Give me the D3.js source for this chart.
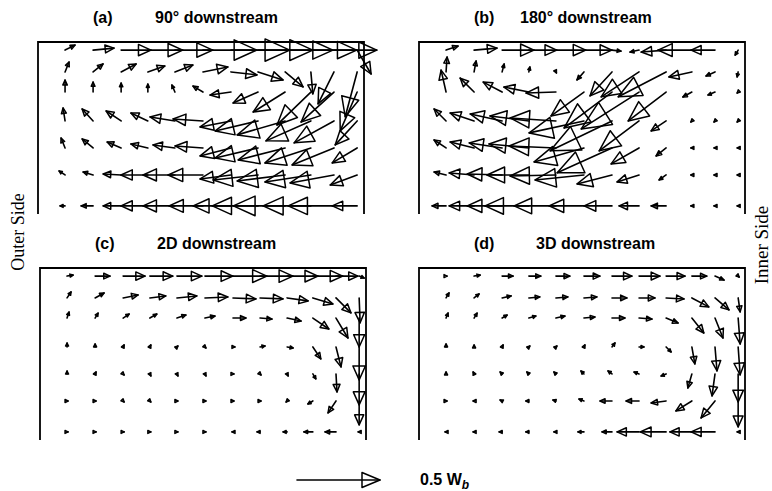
<!DOCTYPE html>
<html>
<head>
<meta charset="utf-8">
<script src="https://cdn.jsdelivr.net/npm/d3@7"></script>
<style>
  body { margin: 0; background: #fff; }
  svg { display: block; }
</style>
</head>
<body>
<svg id="chart" width="772" height="491"></svg>
<script>
// Measuring stations across the channel width (outer wall = 0, inner wall = 1)
const stationsX = [0.083, 0.169, 0.255, 0.337, 0.420, 0.506, 0.592, 0.675, 0.758, 0.837, 0.908, 0.979];
// Measuring rows over the depth (free surface = 0, bed = 1)
const stationsY = [0.047, 0.174, 0.291, 0.459, 0.616, 0.773, 0.953];

const panelLabels = ["(a)", "(b)", "(c)", "(d)"];
const panelTitles = ["90\u00B0 downstream", "180\u00B0 downstream", "2D downstream", "3D downstream"];

// Secondary velocity in % of W_b: u toward the inner side, w upward.
// One row per measuring depth, one value per station.
const u90 = [
  [6, 12.6, 18, 21, 22.8, 32.4, 35.4, 33, 28.8, 27.6, 25.8, 8.4],
  [2.4, 6, 9, 10.2, 10.8, 15, 15.6, 15, 10.8, 1.2, -9.6, -7.2],
  [0, 0, 0, 0, -1.8, -6, -12.6, -15, -19.2, -20.4, -19.8, -10.2],
  [-1.2, -6.6, -9, -10.2, -15, -18, -18.6, -25.8, -28.8, -27, -24, -13.2],
  [-2.4, -6.6, -8.4, -10.2, -13.2, -16.8, -18.6, -25.8, -28.2, -27.6, -25.2, -15],
  [-3.6, -6, -10.8, -16.2, -19.2, -21, -18.6, -27, -28.8, -27.6, -26.4, -16.2],
  [-3, -7.2, -10.8, -16.2, -19.2, -20.4, -22.8, -27.6, -31.2, -28.8, -27.6, -15]
];
const w90 = [
  [3, 1.2, 0, 0, 0, 0, 0, 0, 0, 0, 0, -14.4],
  [6, 4.8, 4.8, 3.6, 4.2, 3, -1.8, -4.8, -9, -13.2, -19.2, -27],
  [7.2, 6, 5.4, 4.8, 4.2, 3.6, -1.8, -6.6, -12, -19.8, -18, -23.4],
  [7.8, 7.2, 6, 4.8, 2.4, 1.2, -3.6, -6, -8.4, -12, -13.2, -14.4],
  [6, 5.4, 3.6, 2.4, 1.8, 1.2, -4.8, -6, -7.2, -9, -10.2, -9],
  [2.4, 1.8, 0.6, 0, 0, 0, -2.4, -3, -3.6, -4.2, -4.8, -6],
  [0, 0, 0, 0, 0, 0, 0, 0, 0, 0, 0, 0]
];

const u180 = [
  [7.2, 13.8, 19.2, 16.8, 18, 16.8, 5.4, -5.4, -15, -20.4, -14.4, -1.8],
  [0.6, 1.2, 1.2, 0.6, 0.3, -4.2, -13.2, -22.8, -28.8, -13.8, -5.4, -0.6],
  [-3, -8.4, -11.4, -15, -18, -19.8, -28.8, -34.8, -22.8, -5.4, -4.2, -0.6],
  [-7.2, -14.4, -19.2, -23.4, -27.6, -33, -37.2, -24, -9, -0.6, -0.6, -0.6],
  [-7.2, -14.4, -19.8, -24, -28.2, -30, -33, -16.8, -6, -0.6, -0.6, -0.6],
  [-7.2, -15, -21, -25.2, -27.6, -29.4, -21, -13.2, -4.2, -0.6, -0.6, -0.6],
  [-8.4, -15, -21, -26.4, -25.2, -21, -16.8, -12, -9, -0.6, -0.6, -0.6]
];
const w180 = [
  [2.4, 1.2, 0, 0, 0, 0, -0.6, -1.2, -1.2, 0, 0, -3],
  [9, 6.6, 4.8, 3, -0.6, -4.8, -14.4, -15, -15, -3, -2.4, -3],
  [13.2, 8.4, 6, 3, -0.6, -14.4, -21.6, -22.2, -17.4, -3, -1.8, -0.6],
  [7.2, 4.8, 4.2, 3, 1.8, -7.2, -18, -18, -6, -0.6, -0.6, -0.6],
  [4.8, 3.6, 3, 2.4, 1.2, -8.4, -15, -9.6, -4.8, 0, 0, 0],
  [1.8, 1.2, 0.6, 0, -0.6, -3, -5.4, -4.2, -3, 0, 0, 0],
  [0, 0, 0, 0, 0, 0, 0, 0, 0, 0, 0, 0]
];

const u2D = [
  [3.6, 9, 13.2, 13.8, 15, 16.8, 20.4, 19.8, 18.6, 18, 13.2, 3],
  [2.4, 5.4, 9, 9.6, 12, 13.8, 13.8, 13.8, 12.6, 12, 9, 0.6],
  [1.2, 1.8, 3.6, 4.2, 5.4, 6, 7.8, 7.2, 8.4, 9.6, 7.2, 0],
  [0, 0, 0.6, 0.6, 0.6, 0.6, 1.2, 3, 3.6, 4.8, 3, 0],
  [0, 0.6, 0.6, 0.6, 0.6, 0.6, 0, 0.6, 0.6, 1.8, 0.6, 0],
  [0, 0.6, 0.6, 0.6, 0, 0, 0, 0, -0.6, -3, -4.8, 0],
  [0.6, 0.6, 0.6, 0.6, 0.6, 0.6, -0.6, -1.8, -2.4, -5.4, -6.6, -0.6]
];
const w2D = [
  [0.6, 0, 0, 0, 0, 0, 0, 0, 0, 0, 0, -1.2],
  [3.6, 3, 1.8, 1.2, 1.2, 0.6, -0.6, -0.6, -1.8, -3.6, -9, -15],
  [3.6, 3, 2.4, 2.4, 1.8, 1.2, 0, -0.6, -1.8, -6.6, -12, -17.4],
  [2.4, 1.8, 1.2, 1.2, 0.6, -0.6, 0, 0.6, -0.6, -7.2, -12, -19.8],
  [1.8, 1.2, -0.6, -1.2, -1.2, -1.2, -0.6, -0.6, -1.2, -3, -10.8, -18.6],
  [0.6, 0, -0.6, -0.6, -0.6, -0.6, -0.6, -0.6, -0.6, -1.8, -7.2, -14.4],
  [0, 0, 0, 0, 0, 0, 0, 0, 0, 0, 0, 0]
];

const u3D = [
  [0.6, 3.6, 6.6, 7.2, 8.4, 9.6, 12, 12.6, 11.4, 9, 5.4, 0.6],
  [1.8, 3, 5.4, 6.6, 7.2, 7.8, 9, 9.6, 10.8, 10.2, 8.4, 1.2],
  [1.2, 1.8, 3, 4.2, 5.4, 6.6, 7.8, 7.8, 7.2, 7.2, 4.8, 1.2],
  [0, 0, 0.6, 0.6, 0.6, 0.6, 1.8, 3, 3, 1.8, 1.2, 1.2],
  [0, -0.6, -1.2, -1.2, -1.2, -1.8, -2.4, -3, -3, -2.4, -1.8, 0],
  [0, -0.6, -1.2, -1.8, -1.8, -3, -7.2, -7.8, -9, -9.6, -8.4, 0],
  [-0.6, -0.6, -1.8, -1.8, -1.2, -3.6, -6, -13.2, -15.6, -13.2, -14.4, -0.6]
];
const w3D = [
  [0, 0.6, 0, 0, 0, 0, 0, 0, 0, 0, -2.4, -0.6],
  [3, 2.4, 1.2, 0.6, 0.6, 0.6, 0, 0, -0.6, -5.4, -7.2, -8.4],
  [3, 3, 1.8, 1.2, 1.2, 0.6, 0, -0.6, -3, -9, -12, -15.6],
  [1.8, 1.2, 1.2, 0.6, 0.6, 1.2, 2.4, 0, -3, -10.2, -14.4, -16.8],
  [1.2, 1.2, 1.2, 1.2, 1.2, 1.8, 1.8, 1.2, -1.2, -8.4, -13.2, -16.8],
  [0.6, 0, 0.6, 0, 0.6, 1.2, 0, 0, -1.2, -6, -10.2, -15.6],
  [0, 0, 0, 0, 0, 0, 0, 0, 0, 0, 0, 0]
];

// Reference vector of the key, % of W_b
const keyValue = 50;
const keyLabel = "0.5 W";
const keySub = "b";
const sideLabels = ["Outer Side", "Inner Side"];

const fields = [[u90, w90], [u180, w180], [u2D, w2D], [u3D, w3D]];

const svg = d3.select("#chart");
const panelW = 326, panelH = 172;
const panelPos = [
  { left: 38, top: 42 },
  { left: 419, top: 42 },
  { left: 40, top: 268 },
  { left: 419, top: 268 }
];

// Arrow length scale shared by all panels and the key
const vScale = d3.scaleLinear().domain([0, keyValue]).range([0, 83]);

function arrow(g, x0, y0, x1, y1, hl, hw) {
  const dx = x1 - x0, dy = y1 - y0;
  const L = Math.hypot(dx, dy) || 1;
  const ux = dx / L, uy = dy / L;
  const bx = x1 - ux * hl, by = y1 - uy * hl;
  const px = -uy * hw, py = ux * hw;
  g.append("line")
    .attr("x1", x0).attr("y1", y0).attr("x2", x1).attr("y2", y1)
    .attr("stroke", "#000").attr("stroke-width", 1.6).attr("stroke-linecap", "round");
  g.append("path")
    .attr("d", `M${x1},${y1}L${bx + px},${by + py}L${bx - px},${by - py}Z`)
    .attr("fill", "none").attr("stroke", "#000").attr("stroke-width", 1.5)
    .attr("stroke-linejoin", "round");
}

fields.forEach(([U, W], i) => {
  const p = panelPos[i];
  const x = d3.scaleLinear().domain([0, 1]).range([p.left, p.left + panelW]);
  const y = d3.scaleLinear().domain([0, 1]).range([p.top, p.top + panelH]);
  const g = svg.append("g");

  // channel walls: outer wall, free surface, inner wall
  g.append("path")
    .attr("d", `M${x(0)},${y(1)}L${x(0)},${y(0)}L${x(1)},${y(0)}L${x(1)},${y(1)}`)
    .attr("fill", "none").attr("stroke", "#000").attr("stroke-width", 1.8);

  stationsY.forEach((sy, r) => {
    stationsX.forEach((sx, c) => {
      const x0 = x(sx), y0 = y(sy);
      const dxp = vScale(U[r][c]);
      const dyp = -vScale(W[r][c]);
      let L = Math.hypot(dxp, dyp);
      let ex = x0 + dxp, ey = y0 + dyp;
      if (L < 1) { ex = x0 + (U[r][c] < 0 ? -1 : 1); ey = y0; L = 1; }
      arrow(g, x0, y0, ex, ey, Math.max(0.42 * L, 3), Math.max(0.19 * L, 1.5));
    });
  });

  g.append("text")
    .attr("x", p.left + 55).attr("y", p.top - 19)
    .attr("font-family", "Liberation Sans, Arial, sans-serif")
    .attr("font-size", 16).attr("font-weight", "bold")
    .text(panelLabels[i]);
  g.append("text")
    .attr("x", p.left + (i === 1 ? 101 : 117)).attr("y", p.top - 19)
    .attr("font-family", "Liberation Sans, Arial, sans-serif")
    .attr("font-size", 16).attr("font-weight", "bold")
    .text(panelTitles[i]);
});

// side labels
svg.append("text")
  .attr("transform", "translate(24,232) rotate(-90)")
  .attr("text-anchor", "middle")
  .attr("font-family", "Liberation Serif, Times New Roman, serif")
  .attr("font-size", 18)
  .text(sideLabels[0]);
svg.append("text")
  .attr("transform", "translate(768,245) rotate(-90)")
  .attr("text-anchor", "middle")
  .attr("font-family", "Liberation Serif, Times New Roman, serif")
  .attr("font-size", 19)
  .text(sideLabels[1]);

// velocity key
const kg = svg.append("g");
const kx = 297, ky = 480;
arrow(kg, kx, ky, kx + vScale(keyValue), ky, 18, 7.5);
const kt = kg.append("text")
  .attr("x", 420).attr("y", 485)
  .attr("font-family", "Liberation Sans, Arial, sans-serif")
  .attr("font-size", 16).attr("font-weight", "bold");
kt.append("tspan").text(keyLabel);
kt.append("tspan").attr("dy", 4).attr("font-size", 12).attr("font-style", "italic").text(keySub);
</script>
</body>
</html>
